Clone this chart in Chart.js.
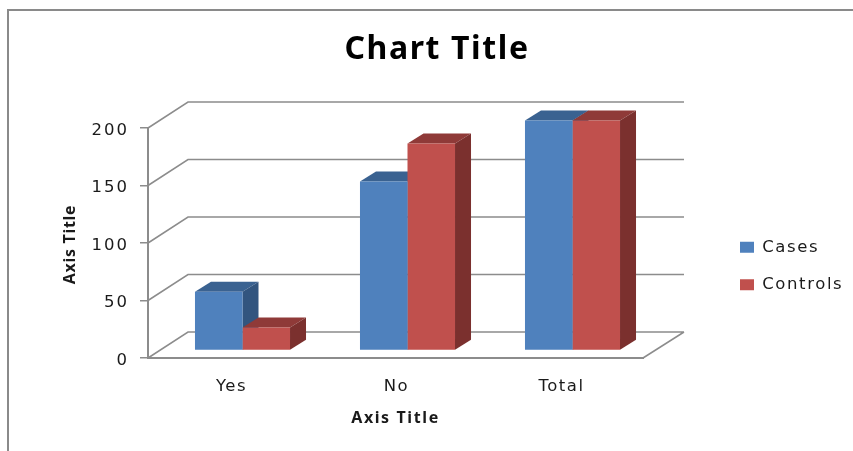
<!DOCTYPE html>
<html>
<head>
<meta charset="utf-8">
<style>
html,body{margin:0;padding:0;background:#fff;overflow:hidden}
#wrap{position:relative;width:853px;height:451px}
canvas{filter:blur(0.45px)}
</style>
<script src="https://cdn.jsdelivr.net/npm/chart.js@4"></script>
</head>
<body>
<div id="wrap"><canvas id="c" width="853" height="451"></canvas></div>
<script>
const categories = ["Yes", "No", "Total"];
const cases = [51, 147, 200];
const controls = [20, 180, 200];
const yTicks = [0, 50, 100, 150, 200];
const chartTitle = "Chart Title";
const xTitle = "Axis Title";
const yTitle = "Axis Title";

const blue = "#4F81BD", blueTop = "#3A6291", blueSide = "#32557F";
const red = "#C0504D", redTop = "#8F3A38", redSide = "#7B302E";
const gridColor = "#8C8C8C", textColor = "#1a1a1a";
const extrusions = [[blueTop, blueSide], [redTop, redSide]];
const barShift = {x: 12, y: -7.5};
const depth = {x: 16, y: -10};
const wall = {x: 40, y: -26};

function withSpacing(obj, name, spacing, dx, dy) {
  if (obj["_w_" + name]) return;
  obj["_w_" + name] = true;
  const orig = obj[name];
  obj[name] = function (...args) {
    const c = this.ctx, prev = c.letterSpacing;
    c.save();
    c.letterSpacing = spacing;
    c.translate(dx, dy);
    orig.apply(this, args);
    c.restore();
    c.letterSpacing = prev;
  };
}

const threeD = {
  id: "threeD",
  afterUpdate(chart) {
    const lg = chart.legend;
    lg.left = 719; lg.right = 853; lg.top = 218; lg.bottom = 451;
    lg.adjustHitBoxes();
    const t = chart.titleBlock;
    t.left = 21; t.right = 853;
    withSpacing(t, "draw", "1.6px", 0, 1.5);
    withSpacing(chart.scales.y, "drawTitle", "0.7px", 0, 1.5);
    withSpacing(chart.scales.x, "drawTitle", "1.6px", 0, 2.5);
    withSpacing(chart.scales.y, "drawLabels", "2px", 1, 2.5);
    withSpacing(chart.scales.x, "drawLabels", "1.5px", 1, 0);
  },
  beforeDraw(chart) {
    const c = chart.ctx;
    c.save();
    c.fillStyle = "#fff";
    c.fillRect(0, 0, chart.width, chart.height);
    c.strokeStyle = "#8a8a8a";
    c.lineWidth = 2;
    c.beginPath();
    c.moveTo(8, 451); c.lineTo(8, 10); c.lineTo(853, 10);
    c.stroke();
    c.restore();
    c.letterSpacing = "1.6px";
  },
  beforeDatasetsDraw(chart) {
    const c = chart.ctx, y = chart.scales.y, a = chart.chartArea;
    c.save();
    c.strokeStyle = gridColor;
    c.lineWidth = 1.5;
    c.beginPath();
    for (const v of yTicks) {
      const py = y.getPixelForValue(v);
      c.moveTo(a.left, py);
      c.lineTo(a.left + wall.x, py + wall.y);
      c.lineTo(a.right + wall.x + 1, py + wall.y);
    }
    const by = y.getPixelForValue(0);
    c.moveTo(a.right, by);
    c.lineTo(a.right + wall.x + 1, by + wall.y);
    c.stroke();
    c.restore();

    c.save();
    c.translate(barShift.x, barShift.y);
    chart.data.datasets.forEach((ds, i) => {
      chart.getDatasetMeta(i).data.forEach(b => {
        const p = b.getProps(["x", "y", "base", "width"], true);
        const l = p.x - p.width / 2, r = p.x + p.width / 2;
        c.fillStyle = extrusions[i][0];
        c.beginPath();
        c.moveTo(l, p.y); c.lineTo(l + depth.x, p.y + depth.y);
        c.lineTo(r + depth.x, p.y + depth.y); c.lineTo(r, p.y);
        c.closePath(); c.fill();
        c.fillStyle = extrusions[i][1];
        c.beginPath();
        c.moveTo(r, p.y); c.lineTo(r + depth.x, p.y + depth.y);
        c.lineTo(r + depth.x, p.base + depth.y); c.lineTo(r, p.base);
        c.closePath(); c.fill();
      });
    });
  },
  afterDatasetsDraw(chart) {
    chart.ctx.restore();
  }
};

new Chart(document.getElementById("c"), {
  type: "bar",
  data: {
    labels: categories,
    datasets: [
      {label: "Cases", data: cases, backgroundColor: blue, clip: false},
      {label: "Controls", data: controls, backgroundColor: red, clip: false}
    ]
  },
  plugins: [threeD],
  options: {
    responsive: false,
    animation: false,
    layout: {padding: {left: 60, right: 110, top: 0, bottom: 0}},
    datasets: {bar: {barPercentage: 1, categoryPercentage: 0.576}},
    plugins: {
      tooltip: {enabled: false},
      title: {
        display: true, text: chartTitle, color: "#000",
        font: {family: "Noto Sans", size: 32, weight: "bold", lineHeight: 1.2},
        padding: {top: 29, bottom: 60.6}
      },
      legend: {
        position: "right", align: "start", maxWidth: 100,
        labels: {
          boxWidth: 14, boxHeight: 11, padding: 21, color: textColor,
          font: {family: "DejaVu Sans", size: 16.5}
        }
      }
    },
    scales: {
      x: {
        afterFit(s) { s.height = 93; },
        grid: {display: true, drawOnChartArea: false, drawTicks: false, color: gridColor},
        border: {display: true, color: gridColor, width: 2},
        ticks: {color: textColor, padding: 19, maxRotation: 0, font: {family: "DejaVu Sans", size: 16.5}},
        title: {
          display: true, text: xTitle, color: textColor,
          font: {family: "Noto Sans", size: 16, weight: "bold", lineHeight: 1.2},
          padding: {top: 0, bottom: 25}
        }
      },
      y: {
        min: 0, max: 200,
        afterFit(s) { s.width = 88; },
        afterBuildTicks(s) { s.ticks = yTicks.map(v => ({value: v})); },
        grid: {display: true, drawOnChartArea: false, drawTicks: true, tickLength: 8, color: gridColor, lineWidth: 1.5},
        border: {display: true, color: gridColor, width: 2},
        ticks: {color: textColor, padding: 12, font: {family: "DejaVu Sans", size: 16.5}},
        title: {
          display: true, text: yTitle, color: textColor,
          font: {family: "Noto Sans", size: 16, weight: "bold", lineHeight: 1.2},
          padding: {top: 1, bottom: 0}
        }
      }
    }
  }
});
</script>
</body>
</html>
